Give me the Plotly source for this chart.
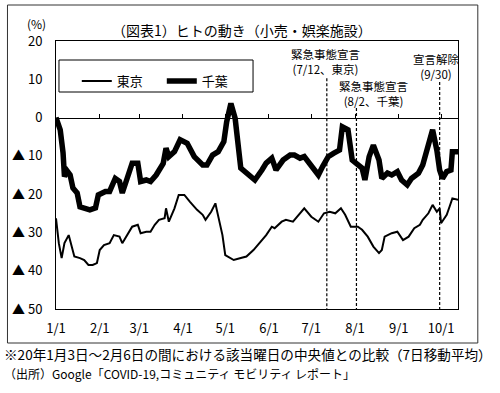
import plotly.graph_objects as go

# ---------------- data ----------------
tokyo_dates = [
    "2021-01-01", "2021-01-03", "2021-01-05", "2021-01-07", "2021-01-10", "2021-01-12",
    "2021-01-14", "2021-01-18", "2021-01-21", "2021-01-24", "2021-01-27", "2021-01-30",
    "2021-02-01", "2021-02-04", "2021-02-08", "2021-02-11", "2021-02-15", "2021-02-17",
    "2021-02-21", "2021-02-24", "2021-02-28", "2021-03-02", "2021-03-06", "2021-03-09",
    "2021-03-12", "2021-03-15", "2021-03-19", "2021-03-20", "2021-03-22", "2021-03-26",
    "2021-03-29", "2021-04-02", "2021-04-06", "2021-04-11", "2021-04-15", "2021-04-17",
    "2021-04-21", "2021-04-24", "2021-04-25", "2021-04-29", "2021-05-01", "2021-05-03",
    "2021-05-07", "2021-05-12", "2021-05-16", "2021-05-21", "2021-05-26", "2021-05-30",
    "2021-06-03", "2021-06-05", "2021-06-10", "2021-06-13", "2021-06-18", "2021-06-22",
    "2021-06-26", "2021-07-01", "2021-07-06", "2021-07-10", "2021-07-14", "2021-07-18",
    "2021-07-22", "2021-07-25", "2021-07-29", "2021-08-03", "2021-08-06", "2021-08-10",
    "2021-08-14", "2021-08-18", "2021-08-20", "2021-08-22", "2021-08-27", "2021-08-31",
    "2021-09-04", "2021-09-08", "2021-09-12", "2021-09-16", "2021-09-18", "2021-09-22",
    "2021-09-25", "2021-09-28", "2021-09-30", "2021-10-01", "2021-10-05", "2021-10-07",
    "2021-10-09", "2021-10-13",
]
tokyo_values = [
    -26.3, -32.8, -36.7, -32.8, -30.7, -33.7,
    -36.3, -36.7, -37.2, -38.5, -38.5, -38.0,
    -34.6, -33.3, -32.8, -30.7, -31.1, -32.8,
    -30.2, -28.5, -28.0, -30.2, -29.8, -29.8,
    -28.0, -26.7, -26.3, -23.7, -27.2, -23.7,
    -20.2, -20.2, -22.0, -24.1, -25.4, -26.7,
    -24.6, -22.4, -24.1, -30.7, -35.9, -36.3,
    -37.2, -36.7, -36.3, -34.6, -32.4, -30.7,
    -28.5, -28.9, -27.2, -26.7, -27.2, -25.4,
    -23.7, -25.9, -27.2, -25.0, -24.6, -25.0,
    -23.7, -25.4, -28.5, -28.5, -29.3, -31.1,
    -33.7, -35.4, -34.6, -31.1, -30.2, -29.8,
    -32.0, -31.1, -28.9, -28.0, -26.7, -25.0,
    -22.8, -24.6, -23.7, -27.6, -25.4, -23.3,
    -21.1, -21.5,
]

chiba_dates = [
    "2021-01-01", "2021-01-04", "2021-01-06", "2021-01-07", "2021-01-09", "2021-01-11",
    "2021-01-13", "2021-01-16", "2021-01-18", "2021-01-21", "2021-01-25", "2021-01-29",
    "2021-01-31", "2021-02-05", "2021-02-08", "2021-02-12", "2021-02-15", "2021-02-17",
    "2021-02-21", "2021-02-24", "2021-02-28", "2021-03-02", "2021-03-06", "2021-03-09",
    "2021-03-13", "2021-03-16", "2021-03-18", "2021-03-20", "2021-03-22", "2021-03-26",
    "2021-03-30", "2021-04-04", "2021-04-09", "2021-04-15", "2021-04-18", "2021-04-22",
    "2021-04-26", "2021-04-30", "2021-05-02", "2021-05-05", "2021-05-08", "2021-05-12",
    "2021-05-15", "2021-05-19", "2021-05-22", "2021-05-27", "2021-05-30", "2021-06-03",
    "2021-06-06", "2021-06-11", "2021-06-16", "2021-06-19", "2021-06-23", "2021-06-26",
    "2021-07-01", "2021-07-06", "2021-07-09", "2021-07-13", "2021-07-17", "2021-07-21",
    "2021-07-23", "2021-07-27", "2021-07-30", "2021-08-03", "2021-08-06", "2021-08-08",
    "2021-08-11", "2021-08-14", "2021-08-18", "2021-08-20", "2021-08-24", "2021-08-27",
    "2021-08-31", "2021-09-03", "2021-09-07", "2021-09-10", "2021-09-15", "2021-09-18",
    "2021-09-21", "2021-09-23", "2021-09-25", "2021-09-28", "2021-09-30", "2021-10-02",
    "2021-10-05", "2021-10-08", "2021-10-09", "2021-10-13",
]
chiba_values = [
    0.0, -3.2, -9.2, -15.4, -14.0, -15.0,
    -18.4, -19.7, -23.3, -23.6, -24.1, -23.6,
    -20.2, -19.3, -19.3, -15.9, -16.7, -19.7,
    -14.5, -11.9, -11.9, -16.7, -16.3, -16.7,
    -15.0, -13.2, -12.0, -8.0, -10.2, -8.9,
    -5.8, -6.7, -10.2, -12.4, -12.4, -9.8,
    -8.9, -6.3, -1.1, 3.7, -0.2, -13.2,
    -14.1, -15.4, -16.3, -13.7, -11.9, -10.6,
    -13.7, -11.1, -9.8, -9.8, -10.6, -10.2,
    -12.4, -15.0, -12.8, -10.2, -9.3, -8.5,
    -2.4, -3.2, -11.1, -12.4, -13.2, -16.3,
    -10.2, -7.2, -11.1, -15.9, -14.5, -15.0,
    -14.1, -16.3, -17.6, -15.9, -14.5, -12.4,
    -8.5, -5.0, -3.2, -8.5, -13.7, -15.9,
    -14.1, -13.7, -8.9, -8.9,
]

month_ticks = ["2021-01-01", "2021-02-01", "2021-03-01", "2021-04-01", "2021-05-01",
               "2021-06-01", "2021-07-01", "2021-08-01", "2021-09-01", "2021-10-01"]
month_labels = ["1/1", "2/1", "3/1", "4/1", "5/1", "6/1", "7/1", "8/1", "9/1", "10/1"]

y_ticks = [20, 10, 0, -10, -20, -30, -40, -50]
y_labels = ["20", "10", "0", "▲ 10", "▲ 20", "▲ 30", "▲ 40", "▲ 50"]

event_dates = ["2021-07-12", "2021-08-02", "2021-09-30"]
event_tops = [10.3, 2.5, 9.3]

# ---------------- layout helpers ----------------
W, H = 500, 393
PL, PR, PT, PB = 52, 458, 41, 309
FONT = "Noto Sans CJK JP"


def px(x):
    return (x - PL) / (PR - PL)


def py(y):
    return (PB - y) / (PB - PT)


fig = go.Figure()
fig.add_trace(go.Scatter(x=tokyo_dates, y=tokyo_values, mode="lines", name="東京",
                         line=dict(color="black", width=2)))
fig.add_trace(go.Scatter(x=chiba_dates, y=chiba_values, mode="lines", name="千葉",
                         line=dict(color="black", width=5.5)))
# invisible trace to hold the zero-line axis with upward ticks
fig.add_trace(go.Scatter(x=[month_ticks[0]], y=[None], xaxis="x2", showlegend=False,
                         hoverinfo="skip"))

shapes = []
# outer frame
shapes.append(dict(type="rect", xref="paper", yref="paper",
                   x0=px(3), x1=px(478), y0=py(343), y1=py(5),
                   line=dict(color="#333333", width=1)))
# legend frame
shapes.append(dict(type="rect", xref="paper", yref="paper",
                   x0=px(55), x1=px(251), y0=py(92), y1=py(60),
                   line=dict(color="black", width=1)))
# event lines
for d, top in zip(event_dates, event_tops):
    shapes.append(dict(type="line", xref="x", yref="y", x0=d, x1=d, y0=top, y1=-50,
                       line=dict(color="black", width=1.2, dash="3px,2px")))

annotations = []


def ann(text, x, y, size=12, xanchor="center"):
    annotations.append(dict(text=text, xref="paper", yref="paper", x=px(x), y=py(y),
                            xanchor=xanchor, yanchor="middle", showarrow=False,
                            font=dict(family=FONT, size=size, color="black")))


ann("（図表1）ヒトの動き（小売・娯楽施設）", 240, 30, size=14)
ann("(%)", 32, 24, size=12)
ann("緊急事態宣言<br>(7/12、東京)", 324, 61, size=11.5)
ann("緊急事態宣言<br>(8/2、千葉)", 373, 94, size=11.5)
ann("宣言解除<br>(9/30)", 436, 66, size=11.5)
ann("※20年1月3日～2月6日の間における該当曜日の中央値との比較（7日移動平均）", -3, 354,
    size=13.6, xanchor="left")
ann("（出所）Google「COVID-19,コミュニティ モビリティ レポート」", -3, 373,
    size=12, xanchor="left")

fig.update_layout(
    width=W, height=H,
    margin=dict(l=PL, r=W - PR, t=PT, b=H - PB, pad=0),
    paper_bgcolor="white", plot_bgcolor="white",
    font=dict(family=FONT, size=13, color="black"),
    showlegend=True,
    legend=dict(orientation="h", x=px(73), y=py(66), xanchor="left", yanchor="top",
                bgcolor="rgba(0,0,0,0)", borderwidth=0, font=dict(size=13),
                itemwidth=30, entrywidth=40),
    xaxis=dict(type="date", range=["2021-01-01", "2021-10-13"],
               tickvals=month_ticks, ticktext=month_labels,
               ticks="outside", ticklen=7, tickcolor="rgba(0,0,0,0)",
               showgrid=False, zeroline=False,
               showline=True, linecolor="black", linewidth=1, mirror=True,
               tickfont=dict(size=13)),
    xaxis2=dict(type="date", range=["2021-01-01", "2021-10-13"], overlaying="x",
                anchor="free", position=50 / 70, side="top",
                tickvals=month_ticks[1:], showticklabels=False,
                ticks="outside", ticklen=4, tickcolor="black", tickwidth=1,
                showline=True, linecolor="black", linewidth=1, showgrid=False,
                zeroline=False),
    yaxis=dict(range=[-50, 20], tickvals=y_ticks, ticktext=y_labels,
               ticks="outside", ticklen=10, tickcolor="rgba(0,0,0,0)",
               showgrid=False, zeroline=False,
               showline=True, linecolor="black", linewidth=1, mirror=True,
               tickfont=dict(size=13)),
    shapes=shapes,
    annotations=annotations,
)

fig.write_html("out.html", config={"displayModeBar": False},
               post_script="document.body.style.margin='0';")
